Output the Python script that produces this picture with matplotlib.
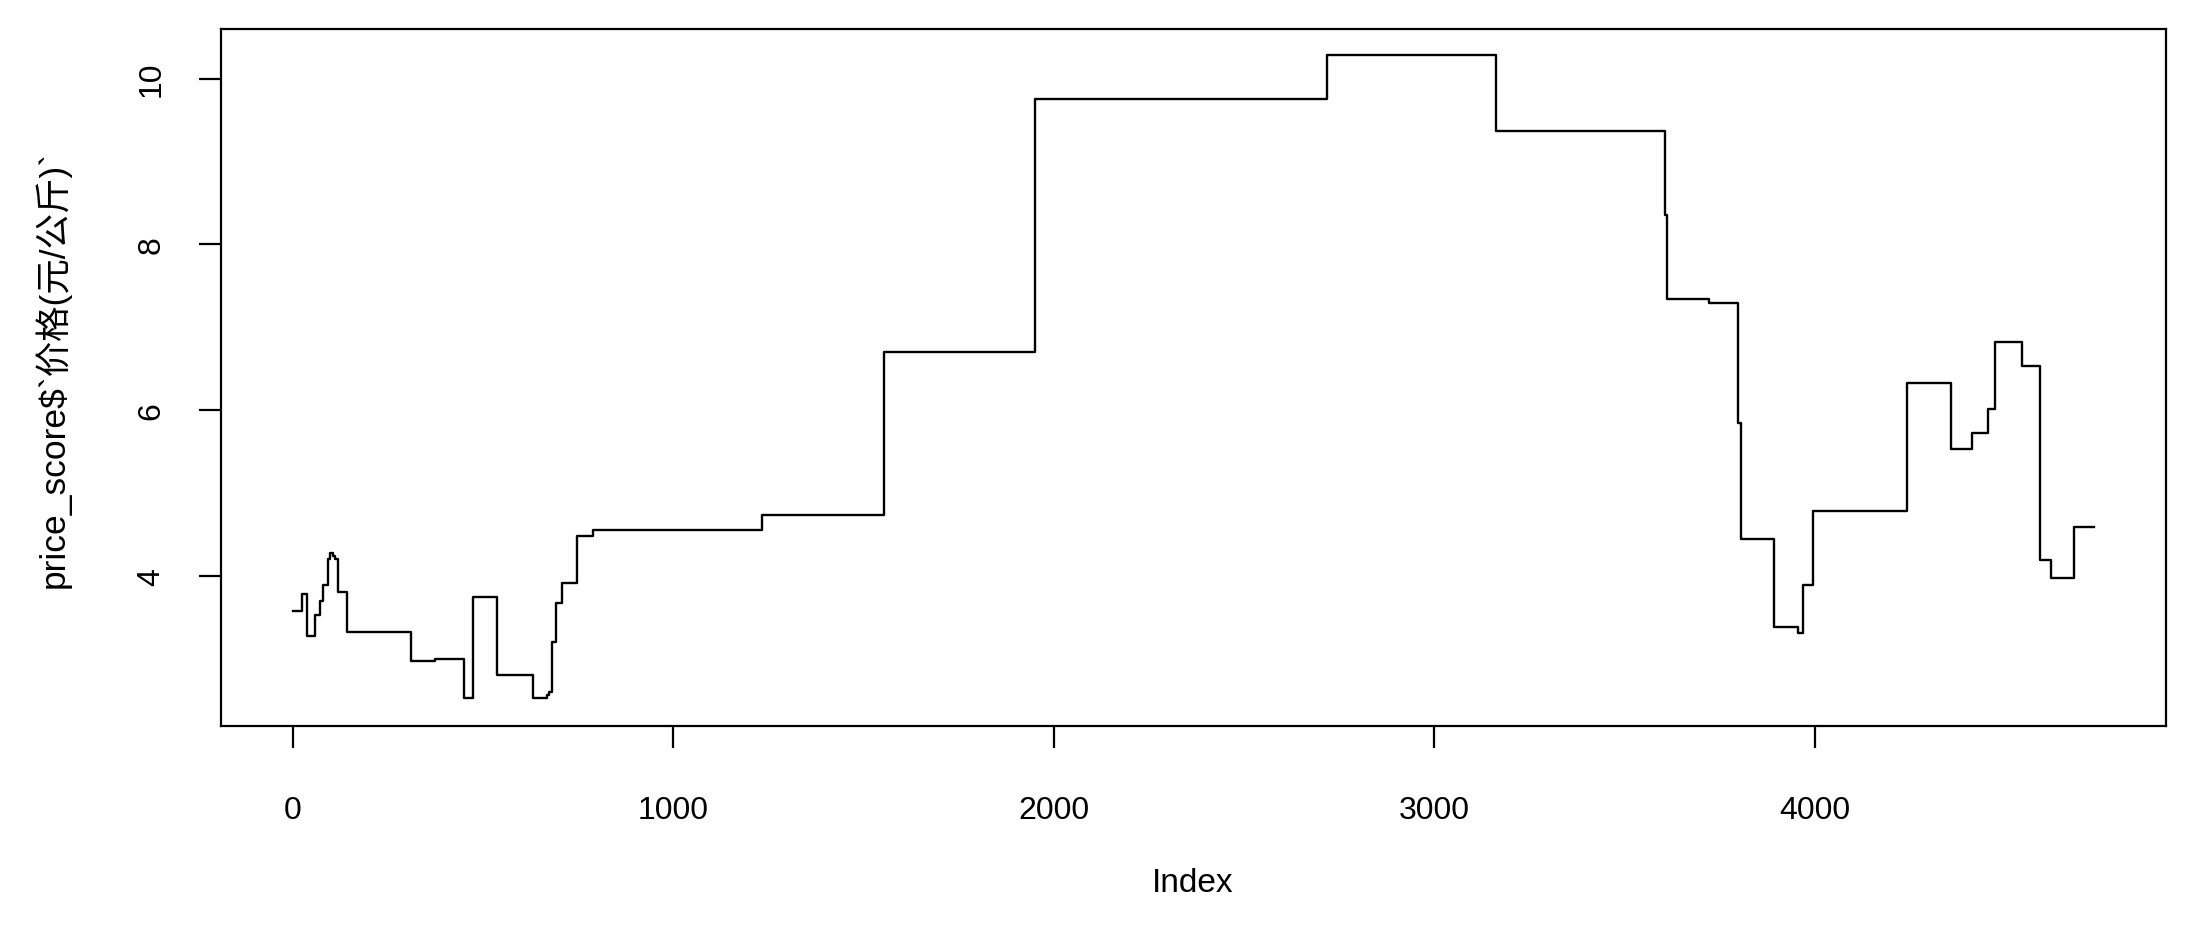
import matplotlib
matplotlib.use("Agg")
import matplotlib.pyplot as plt
import numpy as np

# Step-change start indices and price levels
step_start = [1, 24, 37, 59, 72, 79, 93, 99, 107, 111, 120, 142, 311, 374, 449,
              475, 537, 632, 669, 674, 682, 693, 707, 748, 790, 1234, 1555, 1951,
              2717, 3162, 3606, 3612, 3722, 3799, 3805, 3893, 3956, 3969, 3995,
              4242, 4357, 4412, 4454, 4474, 4543, 4592, 4619, 4680]
step_value = [3.58, 3.78, 3.28, 3.53, 3.70, 3.89, 4.20, 4.28, 4.24, 4.20, 3.81,
              3.33, 2.97, 3.00, 2.53, 3.75, 2.81, 2.53, 2.56, 2.60, 3.20, 3.67,
              3.92, 4.48, 4.56, 4.73, 6.70, 9.76, 10.29, 9.37, 8.36, 7.34, 7.29,
              5.85, 4.45, 3.39, 3.31, 3.89, 4.78, 6.33, 5.53, 5.73, 6.01, 6.82,
              6.53, 4.19, 3.97, 4.59]
n_obs = 4733

x_ticks = [0, 1000, 2000, 3000, 4000]
y_ticks = [4, 6, 8, 10]
x_label = "Index"
y_label = "price_score$`价格(元/公斤)`"

fonts = ['Liberation Sans', 'Noto Sans CJK SC', 'DejaVu Sans']
plt.rcParams['font.family'] = fonts

W, H, DPI = 2190, 929, 100
fig = plt.figure(figsize=(W / DPI, H / DPI), dpi=DPI, facecolor='white')
ax = fig.add_axes([221 / W, 1 - 727 / H, (2166 - 221) / W, (727 - 30) / H])

xs = list(step_start) + [n_obs]
ys = list(step_value) + [step_value[-1]]
ax.step(xs, ys, where='post', color='black', linewidth=1.7)

pad_x = 0.04 * (n_obs - 1)
ax.set_xlim(1 - pad_x, n_obs + pad_x)
ax.set_ylim(2.19, 10.60)

ax.set_xticks(x_ticks)
ax.set_xticklabels([str(v) for v in x_ticks])
ax.set_yticks(y_ticks)
ax.set_yticklabels([str(v) for v in y_ticks])

for sp in ax.spines.values():
    sp.set_linewidth(1.6)
    sp.set_color('black')

ax.tick_params(axis='both', direction='out', length=15.5, width=1.6,
               colors='black', labelsize=23)
ax.tick_params(axis='x', pad=34)
ax.tick_params(axis='y', pad=24)
for lab in ax.get_yticklabels():
    lab.set_rotation(90)
    lab.set_va('center')

fig.text(1193 / W, 1 - 884 / H, x_label, ha='center', va='center',
         fontsize=24, family=fonts)
fig.text(52 / W, 1 - 369 / H, y_label, ha='center', va='center',
         rotation=90, fontsize=25.5, family=fonts)

fig.savefig('out.png', dpi=DPI, facecolor='white')
